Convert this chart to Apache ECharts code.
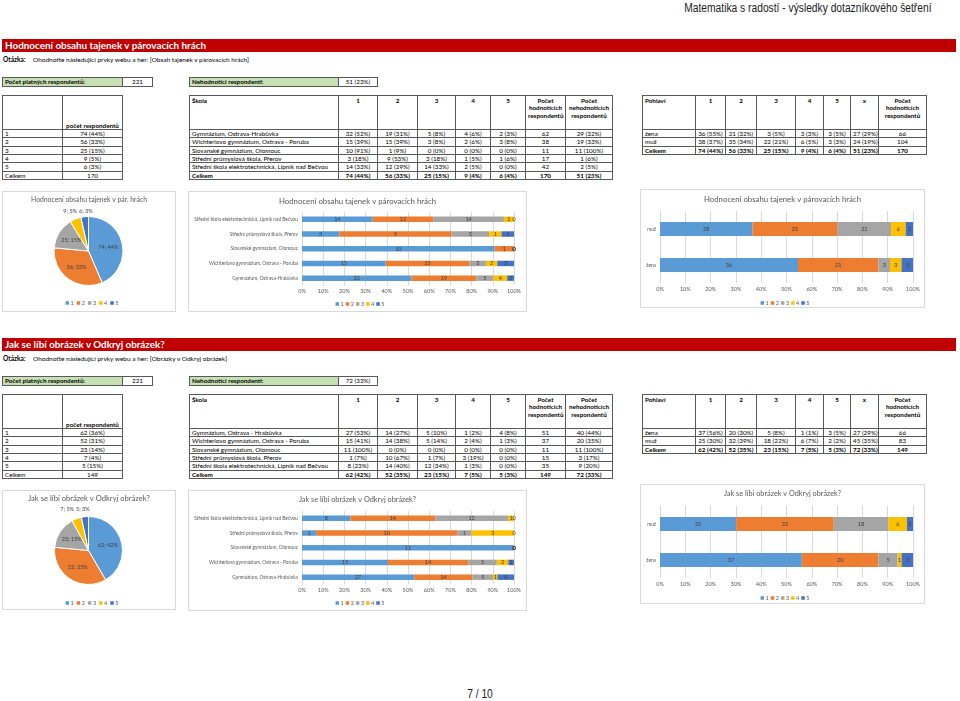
<!DOCTYPE html>
<html><head><meta charset="utf-8">
<script src="https://cdn.jsdelivr.net/npm/echarts@6/dist/echarts.min.js"></script>
<style>
body{margin:0;width:960px;height:701px;position:relative;background:#fff;font-family:Lato,'Liberation Sans',sans-serif;overflow:hidden;color:#000}
.abs{position:absolute}
.hdr{right:28px;top:1px;text-align:right;font-family:'Liberation Sans',Arial,sans-serif;font-size:12.5px;color:#222;white-space:nowrap;transform:scaleX(0.82);transform-origin:right center}
.pg{left:0;width:960px;top:687px;text-align:center;font-family:'Liberation Sans',Arial,sans-serif;font-size:12px;color:#222;transform:scaleX(0.85)}
.redbar{left:2px;width:954px;height:13px;background:#C00000;color:#fff;font-weight:bold;line-height:13px;padding-left:3px;box-sizing:border-box;white-space:nowrap}
.q{left:3px;font-size:6.5px;white-space:nowrap}
.q b{display:inline-block;width:30px}
.cell{position:absolute;border:1px solid #595959;box-sizing:border-box;font-size:6.3px;padding:0 2px;white-space:nowrap;overflow:hidden;background:#fff}
.c{text-align:center}.b{font-weight:bold}
.green{background:#C6E0B4}
.top{line-height:7.3px;padding-top:1px}
.bot{display:flex;align-items:flex-end;justify-content:center;padding-bottom:0}
.chart{position:absolute;border:1px solid #D9D9D9;box-sizing:border-box;background:#fff}
</style></head>
<body>
<div class="abs hdr">Matematika s radostí - výsledky dotazníkového šetření</div>
<div class="abs pg">7 / 10</div>
<script>
const COLORS = ['#5B9BD5','#ED7D31','#A5A5A5','#FFC000','#4472C4'];
const ratingNames = ['1','2','3','4','5'];

// ===== Section 1 =====
const q1Title = 'Hodnocení obsahu tajenek v párovacích hrách';
const q1Question = 'Ohodnoťte následující prvky webu a her: [Obsah tajenek v párovacích hrách]';
const q1Valid = '221';
const q1NonRated = '51 (23%)';
const q1Counts = [74, 56, 25, 9, 6];
const q1CountPct = [44, 33, 15, 5, 3];
const q1Total = 170;
const q1Schools = ['Gymnázium, Ostrava-Hrabůvka','Wichterlovo gymnázium, Ostrava - Poruba','Slovanské gymnázium, Olomouc','Střední průmyslová škola, Přerov','Střední škola elektrotechnická, Lipník nad Bečvou'];
const q1SchoolR1 = [32, 15, 10, 3, 14]; const q1SchoolR1Pct = [52, 39, 91, 18, 33];
const q1SchoolR2 = [19, 15, 1, 9, 12];  const q1SchoolR2Pct = [31, 39, 9, 53, 29];
const q1SchoolR3 = [5, 3, 0, 3, 14];    const q1SchoolR3Pct = [8, 8, 0, 18, 33];
const q1SchoolR4 = [4, 2, 0, 1, 2];     const q1SchoolR4Pct = [6, 6, 0, 5, 5];
const q1SchoolR5 = [2, 3, 0, 1, 0];     const q1SchoolR5Pct = [3, 8, 0, 6, 0];
const q1SchoolRated = [62, 38, 11, 17, 42];
const q1SchoolNon = [29, 19, 11, 1, 2]; const q1SchoolNonPct = [32, 33, 100, 6, 5];
const q1SchoolTotalRow = ['74 (44%)','56 (33%)','25 (15%)','9 (4%)','6 (4%)','170','51 (23%)'];
const q1Genders = ['žena','muž'];
const q1GenderR1 = [36, 38]; const q1GenderR1Pct = [55, 37];
const q1GenderR2 = [21, 35]; const q1GenderR2Pct = [32, 34];
const q1GenderR3 = [3, 22];  const q1GenderR3Pct = [5, 21];
const q1GenderR4 = [3, 6];   const q1GenderR4Pct = [3, 5];
const q1GenderR5 = [3, 3];   const q1GenderR5Pct = [5, 3];
const q1GenderX = [27, 24];  const q1GenderXPct = [29, 19];
const q1GenderRated = [66, 104];
const q1GenderTotalRow = ['74 (44%)','56 (33%)','25 (15%)','9 (4%)','6 (4%)','51 (23%)','170'];
const q1PieTitle = 'Hodnocení obsahu tajenek v pár. hrách';
const q1BarTitle = 'Hodnocení obsahu tajenek v párovacích hrách';

// ===== Section 2 =====
const q2Title = 'Jak se líbí obrázek v Odkryj obrázek?';
const q2Question = 'Ohodnoťte následující prvky webu a her: [Obrázky v Odkryj obrázek]';
const q2Valid = '221';
const q2NonRated = '72 (33%)';
const q2Counts = [62, 52, 23, 7, 5];
const q2CountPct = [36, 31, 14, 4, 15];
const q2Total = 149;
const q2Schools = ['Gymnázium, Ostrava - Hrabůvka','Wichterlovo gymnázium, Ostrava - Poruba','Slovanské gymnázium, Olomouc','Střední průmyslová škola, Přerov','Střední škola elektrotechnická, Lipník nad Bečvou'];
const q2SchoolsChart = ['Gymnázium, Ostrava-Hrabůvka','Wichterlovo gymnázium, Ostrava - Poruba','Slovanské gymnázium, Olomouc','Střední průmyslová škola, Přerov','Střední škola elektrotechnická, Lipník nad Bečvou'];
const q2SchoolR1 = [27, 15, 11, 1, 8];  const q2SchoolR1Pct = [53, 41, 100, 7, 23];
const q2SchoolR2 = [14, 14, 0, 10, 14]; const q2SchoolR2Pct = [27, 38, 0, 67, 40];
const q2SchoolR3 = [5, 5, 0, 1, 12];    const q2SchoolR3Pct = [10, 14, 0, 7, 34];
const q2SchoolR4 = [1, 2, 0, 3, 1];     const q2SchoolR4Pct = [2, 4, 0, 19, 3];
const q2SchoolR5 = [4, 1, 0, 0, 0];     const q2SchoolR5Pct = [8, 3, 0, 0, 0];
const q2SchoolRated = [51, 37, 11, 15, 35];
const q2SchoolNon = [40, 20, 11, 3, 9]; const q2SchoolNonPct = [44, 35, 100, 17, 20];
const q2SchoolTotalRow = ['62 (42%)','52 (35%)','23 (15%)','7 (5%)','5 (3%)','149','72 (33%)'];
const q2Genders = ['žena','muž'];
const q2GenderR1 = [37, 25]; const q2GenderR1Pct = [56, 30];
const q2GenderR2 = [20, 32]; const q2GenderR2Pct = [30, 39];
const q2GenderR3 = [5, 18];  const q2GenderR3Pct = [8, 22];
const q2GenderR4 = [1, 6];   const q2GenderR4Pct = [1, 7];
const q2GenderR5 = [3, 2];   const q2GenderR5Pct = [5, 2];
const q2GenderX = [27, 45];  const q2GenderXPct = [29, 35];
const q2GenderRated = [66, 83];
const q2GenderTotalRow = ['62 (42%)','52 (35%)','23 (15%)','7 (5%)','5 (3%)','72 (33%)','149'];
const q2PieTitle = 'Jak se líbí obrázek v Odkryj obrázek?';
const q2BarTitle = 'Jak se líbí obrázek v Odkryj obrázek?';

// ===== helpers =====
function el(cls, css, html){ const d=document.createElement('div'); d.className=cls; d.style.cssText=css; d.innerHTML=html; document.body.appendChild(d); return d; }
function cell(x,y,w,h,html,cls,extra){ return el('cell '+(cls||''), `left:${x}px;top:${y}px;width:${w+1}px;height:${h+1}px;line-height:${h-1}px;`+(extra||''), html); }
const fmt = (c,p)=>`${c} (${p}%)`;

function grid(x, y, cols, headH, rowH, header, rows, boldLast){
  let cx = x;
  cols.forEach((w,i)=>{ const h = header[i]; cell(cx, y, w, headH, h.t, (h.cls||'')+' top', 'line-height:7.3px;'); cx += w; });
  rows.forEach((r,ri)=>{
    let cx2 = x; const ry = y + headH + ri*rowH;
    r.forEach((t,ci)=>{ cell(cx2, ry, cols[ci], rowH, t, (ci>0?'c':'')+((boldLast && ri===rows.length-1)?' b':'')); cx2 += cols[ci]; });
  });
}

function section(off, title, titleCss, question, valid, nonRated, counts, countPct, total, schools, sR, sRP, sRated, sNon, sNonPct, sTotal, genders, gR, gRP, gX, gXP, gRated, gTotal){
  el('abs redbar', `top:${39+off}px;`+titleCss, title);
  el('abs q', `top:${56+off}px;`, '<b>Otázka:</b>'+question);
  cell(2, 77+off, 120, 9, 'Počet platných respondentů:', 'green b');
  cell(122, 77+off, 30, 9, valid, 'c');
  cell(189, 77+off, 149, 9, 'Nehodnotící respondenti:', 'green b');
  cell(338, 77+off, 39, 9, nonRated, 'c');
  const ty = 95+off, hh = 34, rh = 8.35;
  cell(2, ty, 60, hh, '', '');
  el('cell b bot', `left:62px;top:${ty}px;width:61px;height:${hh+1}px;line-height:7px;`, 'počet respondentů');
  counts.forEach((c,i)=>{ cell(2, ty+hh+i*rh, 60, rh, ratingNames[i], ''); cell(62, ty+hh+i*rh, 60, rh, fmt(c,countPct[i]), 'c'); });
  cell(2, ty+hh+5*rh, 60, rh, 'Celkem', ''); cell(62, ty+hh+5*rh, 60, rh, String(total), 'c');
  const sRows = schools.map((s,j)=>[s, ...sR.map((a,i)=>fmt(a[j], sRP[i][j])), String(sRated[j]), fmt(sNon[j], sNonPct[j])]);
  sRows.push(['Celkem', ...sTotal]);
  grid(189, ty, [149,39,40,38,35,35,40,47], hh, rh,
    [{t:'Škola',cls:'b'},{t:'1',cls:'b c'},{t:'2',cls:'b c'},{t:'3',cls:'b c'},{t:'4',cls:'b c'},{t:'5',cls:'b c'},{t:'Počet<br>hodnotících<br>respondentů',cls:'b c'},{t:'Počet<br>nehodnotících<br>respondentů',cls:'b c'}],
    sRows, true);
  const gRows = genders.map((g,j)=>[g, ...gR.map((a,i)=>fmt(a[j], gRP[i][j])), fmt(gX[j], gXP[j]), String(gRated[j])]);
  gRows.push(['Celkem', ...gTotal]);
  grid(642, ty, [53,30,31,39,28,27,28,48], hh, rh,
    [{t:'Pohlaví',cls:'b'},{t:'1',cls:'b c'},{t:'2',cls:'b c'},{t:'3',cls:'b c'},{t:'4',cls:'b c'},{t:'5',cls:'b c'},{t:'x',cls:'b c'},{t:'Počet<br>hodnotících<br>respondentů',cls:'b c'}],
    gRows, true);
}

section(0, q1Title, "font-size:9.9px;", q1Question, q1Valid, q1NonRated, q1Counts, q1CountPct, q1Total,
  q1Schools, [q1SchoolR1,q1SchoolR2,q1SchoolR3,q1SchoolR4,q1SchoolR5], [q1SchoolR1Pct,q1SchoolR2Pct,q1SchoolR3Pct,q1SchoolR4Pct,q1SchoolR5Pct], q1SchoolRated, q1SchoolNon, q1SchoolNonPct, q1SchoolTotalRow,
  q1Genders, [q1GenderR1,q1GenderR2,q1GenderR3,q1GenderR4,q1GenderR5], [q1GenderR1Pct,q1GenderR2Pct,q1GenderR3Pct,q1GenderR4Pct,q1GenderR5Pct], q1GenderX, q1GenderXPct, q1GenderRated, q1GenderTotalRow);
section(299, q2Title, "font-size:9.8px;", q2Question, q2Valid, q2NonRated, q2Counts, q2CountPct, q2Total,
  q2Schools, [q2SchoolR1,q2SchoolR2,q2SchoolR3,q2SchoolR4,q2SchoolR5], [q2SchoolR1Pct,q2SchoolR2Pct,q2SchoolR3Pct,q2SchoolR4Pct,q2SchoolR5Pct], q2SchoolRated, q2SchoolNon, q2SchoolNonPct, q2SchoolTotalRow,
  q2Genders, [q2GenderR1,q2GenderR2,q2GenderR3,q2GenderR4,q2GenderR5], [q2GenderR1Pct,q2GenderR2Pct,q2GenderR3Pct,q2GenderR4Pct,q2GenderR5Pct], q2GenderX, q2GenderXPct, q2GenderRated, q2GenderTotalRow);

// ===== charts =====
const FF = 'Lato';
const TXT = '#595959';
function box(x,y,w,h){ const d=el('chart', `left:${x}px;top:${y}px;width:${w}px;height:${h}px;`, ''); return echarts.init(d, null, {renderer:'canvas', width:w-2, height:h-2}); }

function legendCfg(top){
  const rich = {t:{fontSize:5.5, color:TXT, fontFamily:FF, padding:[0,0,0,1.5]}};
  COLORS.forEach((c,i)=>{ rich['c'+i] = {width:3.5, height:3.5, backgroundColor:c}; });
  return {top, left:'center', padding:0, icon:'rect', itemWidth:0, itemHeight:0, itemGap:-3, data: ratingNames,
    formatter: n => `{c${ratingNames.indexOf(n)}|}{t|${n}}`,
    textStyle:{fontSize:5.5, color:TXT, fontFamily:FF, rich}};
}

function pieChart(x,y,w,h,title,tSize,counts,center,r,lab,legTop){
  const c = box(x,y,w,h);
  c.setOption({
    animation:false, color:COLORS,
    title:{text:title, left:'center', top:4, padding:0, textStyle:{fontSize:tSize, fontWeight:'normal', color:TXT, fontFamily:FF}},
    legend: legendCfg(legTop),
    series:[{type:'pie', center, radius:r, startAngle:90, clockwise:true, percentPrecision:0, avoidLabelOverlap:false,
      itemStyle:{borderColor:'#fff', borderWidth:1},
      label:{position:'inside', formatter:'{c}; {d}%', fontSize:5.5, color:'#404040', fontFamily:FF},
      labelLine:{show:false, length:3, length2:0},
      labelLayout: p => {
        if (p.dataIndex === 3) return {x:center[0]+lab.x3, y:center[1]+lab.y, align:'right', verticalAlign:'middle'};
        if (p.dataIndex === 4) return {x:center[0]+lab.x4, y:center[1]+lab.y, align:'left', verticalAlign:'middle'};
        return {};
      },
      data: counts.map((v,i)=>({name:ratingNames[i], value:v,
        label: i>=3 ? {position:'outside'} : undefined}))
    }]
  });
}

function barChart(x,y,w,h,title,tSize,cats,countsArr,g,barW,legTop){
  const c = box(x,y,w,h);
  const totals = cats.map((_,j)=>countsArr.reduce((s,a)=>s+a[j],0));
  c.setOption({
    animation:false, color:COLORS,
    title:{text:title, left:'center', top:5, padding:0, textStyle:{fontSize:tSize, fontWeight:'normal', color:TXT, fontFamily:FF}},
    legend: legendCfg(legTop),
    grid: Object.assign({containLabel:false, outerBoundsMode:'none'}, g),
    xAxis:{type:'value', min:0, max:100, interval:10,
      axisLabel:{formatter:'{value}%', fontSize:5.5, color:TXT, fontFamily:FF, margin:3},
      axisLine:{show:false}, axisTick:{show:false},
      splitLine:{lineStyle:{color:'#D9D9D9', width:1}}},
    yAxis:{type:'category', data:cats, axisLine:{show:false}, axisTick:{show:false},
      axisLabel:{fontSize:4.8, color:TXT, fontFamily:FF, margin:4}},
    series: countsArr.map((arr,i)=>({name:ratingNames[i], type:'bar', stack:'t', barWidth:barW,
      data: arr.map((v,j)=>v/totals[j]*100),
      label:{show:true, position:'inside', fontSize:5.5, color:'#404040', fontFamily:FF, formatter:p=>String(arr[p.dataIndex])}}))
  });
}

// Section 1 charts
pieChart(2,191,174,121, q1PieTitle, 6.8, q1Counts, [85.5,59], 34.5, {x3:-11.5, x4:-9.5, y:-39.5}, 108);
barChart(188,191,339,121, q1BarTitle, 7.8, q1Schools, [q1SchoolR1,q1SchoolR2,q1SchoolR3,q1SchoolR4,q1SchoolR5], {left:113, top:20, width:212, height:73.5}, 5.5, 109);
barChart(640,189,285,119, q1BarTitle, 7.8, q1Genders, [q1GenderR1,q1GenderR2,q1GenderR3,q1GenderR4,q1GenderR5], {left:19, top:21, width:253, height:72}, 14, 110);
// Section 2 charts
pieChart(2,490,174,120, q2PieTitle, 7.6, q2Counts, [85.5,59.5], 34, {x3:-14.5, x4:-12.5, y:-41.5}, 109);
barChart(188,490,339,121, q2BarTitle, 7.3, q2SchoolsChart, [q2SchoolR1,q2SchoolR2,q2SchoolR3,q2SchoolR4,q2SchoolR5], {left:113, top:20, width:212, height:73.5}, 5.5, 109);
barChart(640,484,285,120, q2BarTitle, 7.3, q2Genders, [q2GenderR1,q2GenderR2,q2GenderR3,q2GenderR4,q2GenderR5], {left:19, top:21, width:253, height:72}, 14, 110);
</script>
</body></html>
